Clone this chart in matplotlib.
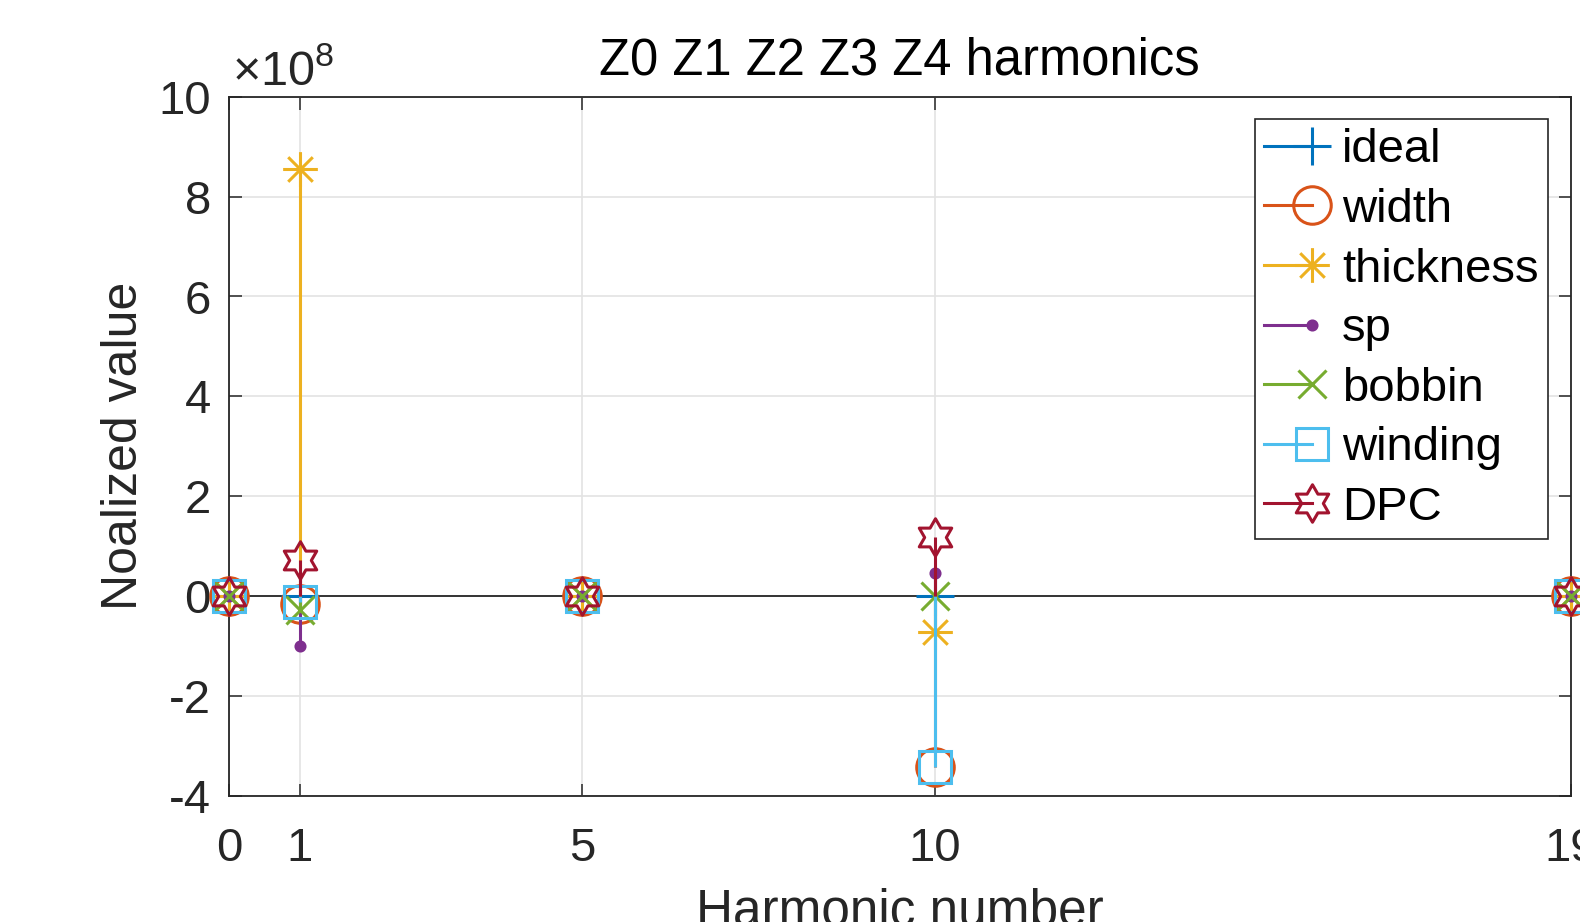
import numpy as np
import matplotlib
matplotlib.use('Agg')
import matplotlib.pyplot as plt
from matplotlib.path import Path
from matplotlib.lines import Line2D
from matplotlib.legend_handler import HandlerLine2DCompound
from matplotlib.ticker import FuncFormatter

plt.rcParams['font.family'] = ['Liberation Sans', 'DejaVu Sans']
plt.rcParams['mathtext.fontset'] = 'custom'
plt.rcParams['mathtext.rm'] = 'Liberation Sans'
plt.rcParams['axes.unicode_minus'] = False

# Harmonic numbers and normalized values for each case
harmonics = [0, 1, 5, 10, 19]
ideal = [0, 0, 0, 0, 0]
width = [0, -0.15e8, 0, -3.42e8, 0]
thickness = [0, 8.55e8, 0, -0.72e8, 0]
sp = [0, -1.0e8, 0, 0.47e8, 0]
bobbin = [0, -0.27e8, 0, 0, 0]
winding = [0, -0.11e8, 0, -3.42e8, 0]
dpc = [0, 0.72e8, 0, 1.18e8, 0]

names = ['ideal', 'width', 'thickness', 'sp', 'bobbin', 'winding', 'DPC']
series = [ideal, width, thickness, sp, bobbin, winding, dpc]
colors = ['#0072BD', '#D95319', '#EDB120', '#7E2F8E', '#77AC30', '#4DBEEE', '#A2142F']

# custom markers: six-pointed star and eight-armed asterisk
ang = np.deg2rad(90 + 30 * np.arange(12))
rad = np.where(np.arange(12) % 2 == 0, 1.0, 1 / np.sqrt(3))
hex_verts = np.column_stack([rad * np.cos(ang), rad * np.sin(ang)])
hexagram = Path(np.vstack([hex_verts, hex_verts[:1]]), closed=True)
d = np.sqrt(0.5)
asterisk = Path([(-1, 0), (1, 0), (0, -1), (0, 1), (-d, -d), (d, d), (-d, d), (d, -d)],
                [Path.MOVETO, Path.LINETO] * 4)

markers = ['+', 'o', asterisk, 'o', 'x', 's', hexagram]
msizes = [27, 27, 25, 6.5, 20, 23, 27]
filled = [False, False, False, True, False, False, False]


class StemHandler(HandlerLine2DCompound):
    # stem-style legend entry: line running into a marker at its right end
    def get_xdata(self, legend, xdescent, ydescent, width, height, fontsize):
        end = -xdescent + 0.72 * width
        return np.array([-xdescent, end]), np.array([end])


fig = plt.figure(figsize=(15.8, 9.22), dpi=100)
ax = fig.add_axes([229 / 1580, 1 - 796 / 922, (1570.7 - 229) / 1580, (796 - 96.7) / 922])

ax.axhline(0, color='#262626', lw=1.3, zorder=2.5)

handles = []
for name, vals, c, m, ms, f in zip(names, series, colors, markers, msizes, filled):
    fc = c if f else 'none'
    ax.vlines(harmonics, 0, vals, color=c, lw=2.2, zorder=3)
    ax.plot(harmonics, vals, ls='none', marker=m, ms=ms, mec=c, mfc=fc, mew=2.2,
            clip_on=False, zorder=3)
    handles.append(Line2D([], [], color=c, lw=2.2, marker=m, ms=ms, mec=c, mfc=fc, mew=2.2))

ax.set_xlim(0, 19)
ax.set_ylim(-4e8, 10e8)
ax.set_xticks(harmonics)
ax.set_yticks(np.arange(-4, 11, 2) * 1e8)
ax.yaxis.set_major_formatter(FuncFormatter(lambda v, p: f'{v / 1e8:g}'))

ax.grid(True, color='#e3e3e3', lw=1.2, zorder=0)
ax.set_axisbelow(True)
ax.tick_params(direction='in', length=9, width=1.1, colors='#262626', labelsize=34,
               top=True, right=True)
ax.tick_params(axis='y', pad=13)
ax.tick_params(axis='x', pad=22)
for s in ax.spines.values():
    s.set_color('#262626')
    s.set_linewidth(1.3)

ax.set_title('Z0 Z1 Z2 Z3 Z4 harmonics', fontsize=36.5, pad=16)
ax.set_xlabel('Harmonic number', fontsize=37, color='#262626', labelpad=12)
ax.set_ylabel('Noalized value', fontsize=36, color='#262626', labelpad=8)

fig.text(232 / 1580, 1 - 85 / 922, r'$\times\mathregular{10^{8}}$', fontsize=35,
         color='#262626', ha='left', va='baseline')

leg = ax.legend(handles, names, handler_map={Line2D: StemHandler()},
                loc='upper right', bbox_to_anchor=(1548 / 1580, 1 - 119 / 922),
                bbox_transform=fig.transFigure, fontsize=34, handlelength=1.4,
                handletextpad=0.25, labelspacing=0.33, borderpad=0.2,
                borderaxespad=0, fancybox=False, framealpha=1)
leg.get_frame().set_edgecolor('#262626')
leg.get_frame().set_linewidth(1.2)
leg.set_zorder(5)

fig.savefig('out.png', dpi=100)
